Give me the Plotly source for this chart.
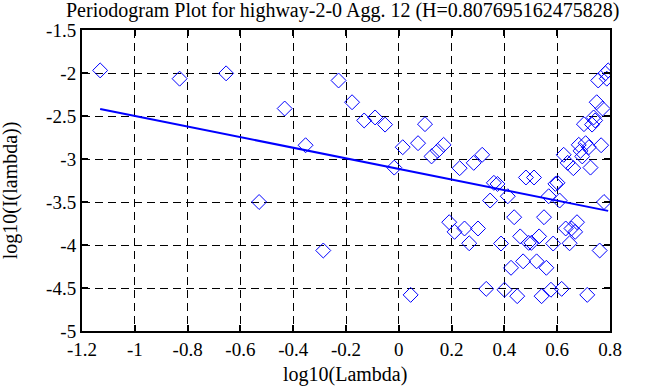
import numpy as np
import plotly.graph_objects as go

title_text = "Periodogram Plot for highway-2-0 Agg. 12 (H=0.807695162475828)"
x_title = "log10(Lambda)"
y_title = "log10(I(lambda))"
N = 85  # series length (lambda_k = 2*pi*k/N)
k_index = list(range(1, 85))

# log10(I(lambda_k)) (periodogram is symmetric: k <-> N-k)
log_I = [
    -1.970, -2.066, -2.004, -3.500, -2.413, -2.840, -4.064, -2.087, -2.340, -2.552,
    -2.517, -2.600, -3.100, -2.863, -4.580, -2.816, -2.595, -2.970, -2.905, -2.835,
    -3.735, -3.847, -3.107, -3.808, -3.980, -3.045, -3.808, -2.951, -4.510, -3.483,
    -3.277, -3.290, -3.983, -4.520, -3.433, -4.265, -3.677, -4.595, -3.900, -4.190,
    -3.215, -3.975,
    -3.975, -3.215, -4.190, -3.900, -4.595, -3.677, -4.265, -3.433, -4.520, -3.983,
    -3.290, -3.277, -3.483, -4.510, -2.951, -3.808, -3.045, -3.980, -3.808, -3.107,
    -3.847, -3.735, -2.835, -2.905, -2.970, -2.595, -2.816, -4.580, -2.863, -3.100,
    -2.600, -2.517, -2.552, -2.340, -2.087, -4.064, -2.840, -2.413, -3.500, -2.004,
    -2.066, -1.970,
]

# fitted line end values
fit_y_ends = [-2.419, -3.603]

x_ticks = [-1.2, -1, -0.8, -0.6, -0.4, -0.2, 0, 0.2, 0.4, 0.6, 0.8]
x_tick_text = ["-1.2", "-1", "-0.8", "-0.6", "-0.4", "-0.2", "0", "0.2", "0.4", "0.6", "0.8"]
y_ticks = [-5, -4.5, -4, -3.5, -3, -2.5, -2, -1.5]
y_tick_text = ["-5", "-4.5", "-4", "-3.5", "-3", "-2.5", "-2", "-1.5"]

log_lambda = np.log10(2 * np.pi * np.array(k_index) / N)
fit_x_ends = [log_lambda[0], log_lambda[-1]]

FONT = "Liberation Serif, Times New Roman, serif"

fig = go.Figure()
fig.add_trace(go.Scatter(
    x=log_lambda, y=log_I, mode="markers",
    marker=dict(symbol="diamond-open", size=11.5, color="#0000ff", line=dict(width=1, color="#0000ff")),
    showlegend=False,
))
fig.add_trace(go.Scatter(
    x=fit_x_ends, y=fit_y_ends, mode="lines",
    line=dict(color="#0000ff", width=2), showlegend=False,
))

axis_common = dict(
    showline=True, linecolor="black", linewidth=2, mirror="ticks",
    ticks="inside", ticklen=6, tickwidth=2, tickcolor="black",
    showgrid=True, gridcolor="black", gridwidth=1, griddash="8px,5px",
    zeroline=False, tickfont=dict(family=FONT, size=19, color="black"),
)

fig.update_xaxes(range=[-1.2, 0.8], tickvals=x_ticks, ticktext=x_tick_text, **axis_common)
fig.update_yaxes(range=[-5, -1.5], tickvals=y_ticks, ticktext=y_tick_text, **axis_common)

tfont = dict(family=FONT, size=20, color="black")
fig.update_layout(
    width=663, height=387,
    margin=dict(l=82, r=53, t=30, b=56),
    paper_bgcolor="white", plot_bgcolor="white",
    font=dict(family=FONT, color="black"),
    annotations=[
        dict(text=title_text, xref="paper", yref="paper", x=0.494, y=1.066,
             xanchor="center", yanchor="middle", showarrow=False, font=tfont),
        dict(text=x_title, xref="paper", yref="paper", x=0.498, y=-0.143,
             xanchor="center", yanchor="middle", showarrow=False, font=tfont),
        dict(text=y_title, xref="paper", yref="paper", x=-0.136, y=0.468,
             xanchor="center", yanchor="middle", textangle=-90, showarrow=False, font=tfont),
    ],
)

fig.write_html("out.html", config={"displayModeBar": False},
               post_script="document.body.style.margin='0';document.body.style.overflow='hidden';")
